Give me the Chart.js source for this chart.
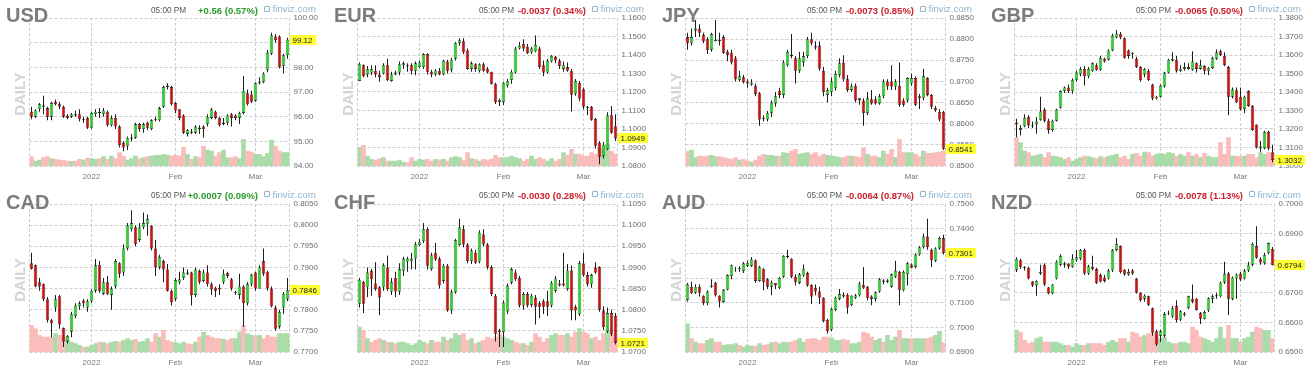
<!DOCTYPE html>
<html><head><meta charset="utf-8">
<script src="https://cdn.jsdelivr.net/npm/chart.js@4.4.1/dist/chart.umd.min.js"></script>
<style>
html,body{margin:0;padding:0;background:#fff;}
body{width:1314px;height:379px;position:relative;overflow:hidden;font-family:'Liberation Sans',Arial,sans-serif;}
.panel{position:absolute;width:328px;height:188px;}
.panel canvas{position:absolute;left:0;top:0;}
.ttl{position:absolute;left:6px;font-weight:bold;font-size:20px;line-height:1;color:#7c7c7c;white-space:nowrap;}
.daily{position:absolute;left:18.7px;top:93.5px;font-weight:bold;font-size:15px;line-height:1;color:#d4d4d4;transform:translate(-50%,-50%) rotate(-90deg);white-space:nowrap;}
.time{position:absolute;left:151px;font-size:8.2px;line-height:1;color:#555;white-space:nowrap;}
.chg{position:absolute;right:70px;font-weight:bold;font-size:9.5px;line-height:1;white-space:nowrap;}
.fv{position:absolute;left:272.5px;font-size:9.75px;line-height:1;color:#8cb4d2;white-space:nowrap;}
.fvi{position:absolute;left:264px;width:4px;height:4px;border:1px solid #8cb4d2;border-radius:1px;}
</style>
</head><body>
<script>
// ---- categories (trading days) ----
const dates = ['2021-12-13','2021-12-14','2021-12-15','2021-12-16','2021-12-17','2021-12-20','2021-12-21','2021-12-22','2021-12-23','2021-12-24','2021-12-27','2021-12-28','2021-12-29','2021-12-30','2021-12-31',
'2022-01-03','2022-01-04','2022-01-05','2022-01-06','2022-01-07','2022-01-10','2022-01-11','2022-01-12','2022-01-13','2022-01-14','2022-01-17','2022-01-18','2022-01-19','2022-01-20','2022-01-21','2022-01-24','2022-01-25','2022-01-26','2022-01-27','2022-01-28','2022-01-31',
'2022-02-01','2022-02-02','2022-02-03','2022-02-04','2022-02-07','2022-02-08','2022-02-09','2022-02-10','2022-02-11','2022-02-14','2022-02-15','2022-02-16','2022-02-17','2022-02-18','2022-02-21','2022-02-22','2022-02-23','2022-02-24','2022-02-25','2022-02-28',
'2022-03-01','2022-03-02','2022-03-03','2022-03-04','2022-03-07','2022-03-08','2022-03-09','2022-03-10','2022-03-11'];
const xTickDates = ['2022-01-03','2022-02-01','2022-03-01'];
const xTickLabels = ['2022','Feb','Mar'];

// ---- panel texts & y tick labels ----
const names = ['USD','EUR','JPY','GBP','CAD','CHF','AUD','NZD'];
const changes = ['+0.56 (0.57%)','-0.0037 (0.34%)','-0.0073 (0.85%)','-0.0065 (0.50%)','+0.0007 (0.09%)','-0.0030 (0.28%)','-0.0064 (0.87%)','-0.0078 (1.13%)'];
const timeLabel = '05:00 PM';
const yMin = [94, 1.08, 0.85, 1.30, 0.77, 1.07, 0.69, 0.65];
const yMax = [100, 1.16, 0.885, 1.38, 0.805, 1.105, 0.75, 0.70];
const yStep = [1, 0.01, 0.005, 0.01, 0.005, 0.005, 0.01, 0.01];
const yDecimals = [2, 4, 4, 4, 4, 4, 4, 4];

// ---- USD ----
const usdOpen = [96.2,96.0,96.3,96.45,96.35,96.0,96.6,96.5,96.4,96.05,96.0,96.1,96.1,95.85,95.95,95.55,96.1,96.2,96.1,96.2,95.65,95.95,95.6,94.95,94.8,95.1,95.15,95.7,95.5,95.75,95.5,95.85,95.85,96.4,97.2,97.2,96.55,96.3,96.05,95.3,95.4,95.35,95.55,95.6,95.7,95.95,96.2,95.95,95.7,95.75,96.1,96.05,95.95,96.15,96.95,96.9,96.65,97.35,97.4,97.9,98.55,99.25,99.25,98.05,98.5];
const usdClose = [96.0,96.25,96.5,96.4,96.0,96.55,96.5,96.4,96.0,95.95,96.1,96.05,95.9,95.9,95.55,96.15,96.2,96.15,96.25,95.65,95.95,95.6,94.85,94.75,95.15,95.15,95.7,95.5,95.7,95.55,95.85,95.9,96.35,97.2,97.25,96.5,96.25,95.95,95.35,95.45,95.35,95.6,95.5,95.5,96.0,96.3,95.95,95.65,95.75,96.05,95.95,95.95,96.15,97.05,96.5,96.6,97.35,97.4,97.75,98.6,99.3,99.1,98.0,98.5,99.12];
const usdHigh = [96.4,96.3,96.55,96.85,96.4,96.6,96.7,96.6,96.45,96.1,96.15,96.25,96.3,96.0,96.0,96.2,96.3,96.35,96.35,96.25,96.05,96.1,95.65,95.0,95.2,95.3,95.75,95.75,95.75,95.8,95.9,96.0,96.4,97.25,97.35,97.25,96.6,96.3,96.1,95.5,95.5,95.65,95.65,95.65,96.1,96.35,96.25,96.0,95.95,96.1,96.15,96.1,96.2,97.65,97.1,97.05,97.4,97.6,97.8,98.7,99.4,99.35,99.3,98.55,99.2];
const usdLow = [95.9,95.95,96.2,96.1,95.85,95.85,96.45,96.3,95.95,95.9,95.95,96.0,95.8,95.75,95.5,95.5,96.0,95.95,96.0,95.6,95.6,95.5,94.75,94.6,94.65,95.0,95.1,95.4,95.35,95.45,95.45,95.8,95.8,96.35,97.1,96.45,96.15,95.85,95.3,95.2,95.3,95.3,95.3,95.15,95.6,95.9,95.9,95.6,95.65,95.65,95.6,95.85,95.7,96.1,96.45,96.55,96.6,97.3,97.35,97.8,98.5,99.0,97.95,97.75,98.35];
const usdVolume = [28,15,18,25,28,22,20,18,16,15,14,15,20,18,24,22,20,22,28,20,30,22,40,30,18,22,30,22,25,28,30,32,32,35,33,30,32,30,56,35,20,28,25,60,48,45,30,40,48,25,25,28,22,80,45,42,35,35,28,38,78,60,45,40,40];

// ---- EUR ----
const eurOpen = [1.126,1.1345,1.1295,1.1305,1.1315,1.1295,1.13,1.1345,1.126,1.1295,1.1305,1.1345,1.1345,1.1345,1.1315,1.1335,1.1335,1.1405,1.131,1.1295,1.1315,1.1295,1.1365,1.132,1.138,1.1465,1.1475,1.1425,1.1325,1.135,1.1315,1.135,1.1325,1.131,1.1245,1.1155,1.1145,1.1235,1.1265,1.1305,1.1435,1.146,1.1445,1.1415,1.142,1.1435,1.1345,1.1305,1.1365,1.139,1.137,1.1325,1.1335,1.1315,1.119,1.125,1.1215,1.112,1.112,1.1055,1.0925,1.0855,1.089,1.1075,1.1015];
const eurClose = [1.135,1.1285,1.1325,1.1325,1.1295,1.128,1.1345,1.1265,1.1295,1.1305,1.135,1.1355,1.134,1.1315,1.1355,1.136,1.1405,1.131,1.1295,1.1315,1.1295,1.137,1.1315,1.1375,1.1465,1.148,1.1415,1.1325,1.1355,1.1325,1.135,1.1315,1.1305,1.1245,1.1145,1.1145,1.125,1.126,1.131,1.1435,1.145,1.1435,1.141,1.1435,1.1455,1.1335,1.1305,1.137,1.1395,1.137,1.134,1.1345,1.1315,1.1185,1.126,1.1165,1.112,1.1115,1.105,1.091,1.085,1.0915,1.1075,1.098,1.0949];
const eurHigh = [1.136,1.135,1.134,1.1345,1.1345,1.1315,1.1355,1.138,1.131,1.1315,1.1365,1.1365,1.1355,1.1355,1.1365,1.137,1.141,1.141,1.132,1.1325,1.133,1.1375,1.1375,1.1385,1.147,1.149,1.149,1.1435,1.1365,1.1355,1.1355,1.136,1.1335,1.131,1.125,1.1165,1.1255,1.127,1.132,1.1445,1.147,1.1485,1.146,1.1445,1.1505,1.1445,1.137,1.138,1.14,1.1395,1.138,1.1365,1.136,1.1325,1.127,1.126,1.1225,1.1125,1.1125,1.106,1.0935,1.093,1.109,1.1125,1.108];
const eurLow = [1.126,1.128,1.128,1.129,1.128,1.1255,1.1295,1.126,1.1255,1.129,1.129,1.1325,1.131,1.1295,1.129,1.133,1.1325,1.1295,1.128,1.1285,1.129,1.129,1.13,1.1305,1.137,1.145,1.1405,1.132,1.131,1.131,1.1305,1.131,1.13,1.124,1.1135,1.1125,1.113,1.1225,1.1245,1.13,1.143,1.142,1.1405,1.1405,1.1415,1.1325,1.1285,1.13,1.136,1.1355,1.1325,1.131,1.131,1.1095,1.118,1.115,1.1105,1.1075,1.1045,1.0895,1.081,1.084,1.0885,1.0975,1.0935];
const eurVolume = [55,62,30,20,18,22,25,15,15,15,18,12,10,25,15,20,18,20,15,20,18,20,15,25,28,25,18,40,22,20,15,20,18,20,32,25,25,25,30,25,22,15,20,30,20,25,20,15,22,15,20,40,32,50,35,35,30,30,40,35,55,50,65,45,35];

// ---- JPY ----
const jpyOpen = [0.8805,0.879,0.882,0.8825,0.881,0.880,0.8775,0.8795,0.8798,0.8805,0.877,0.8768,0.8755,0.8703,0.871,0.870,0.8692,0.869,0.8672,0.8613,0.861,0.8625,0.8648,0.8678,0.8668,0.8738,0.8763,0.8755,0.8725,0.8745,0.876,0.880,0.8783,0.8785,0.8725,0.8668,0.8675,0.8685,0.8715,0.8745,0.8705,0.868,0.869,0.866,0.8655,0.8625,0.8658,0.8658,0.8648,0.8665,0.870,0.870,0.8688,0.869,0.8655,0.8655,0.8695,0.8708,0.8665,0.866,0.8708,0.8668,0.8638,0.8628,0.8628];
const jpyClose = [0.879,0.8805,0.8825,0.8815,0.8795,0.8775,0.8812,0.8798,0.8795,0.8768,0.8762,0.8745,0.8705,0.8712,0.8698,0.8695,0.8697,0.867,0.861,0.8611,0.8625,0.865,0.8665,0.8668,0.8745,0.877,0.876,0.8725,0.8755,0.876,0.880,0.879,0.878,0.873,0.8675,0.868,0.870,0.8718,0.8743,0.8705,0.868,0.869,0.8655,0.8655,0.8625,0.866,0.8648,0.8648,0.8665,0.870,0.8688,0.8688,0.870,0.8645,0.8645,0.8708,0.8708,0.8645,0.866,0.8712,0.8668,0.864,0.8632,0.861,0.8541];
const jpyHigh = [0.8815,0.8825,0.8845,0.8835,0.8815,0.8805,0.8815,0.8845,0.8815,0.881,0.8775,0.8775,0.876,0.8725,0.8715,0.8705,0.8705,0.8695,0.8675,0.862,0.863,0.8655,0.8675,0.8685,0.875,0.8775,0.8812,0.876,0.877,0.877,0.8805,0.8815,0.8795,0.8795,0.8735,0.8685,0.871,0.8725,0.8755,0.8762,0.8715,0.8695,0.8695,0.866,0.866,0.8675,0.868,0.8665,0.867,0.8705,0.8705,0.8738,0.8705,0.8745,0.866,0.871,0.8718,0.8712,0.867,0.873,0.871,0.867,0.8642,0.8635,0.863];
const jpyLow = [0.8775,0.8785,0.8805,0.8805,0.879,0.8765,0.877,0.8795,0.8785,0.8765,0.8748,0.874,0.870,0.870,0.8695,0.8685,0.869,0.8665,0.8595,0.8605,0.8605,0.8615,0.864,0.866,0.866,0.8735,0.8755,0.8695,0.872,0.8735,0.8755,0.8785,0.8775,0.8725,0.8665,0.865,0.8665,0.8678,0.871,0.870,0.8675,0.8675,0.865,0.8645,0.8595,0.862,0.8645,0.8645,0.8645,0.866,0.868,0.868,0.868,0.864,0.864,0.865,0.869,0.8642,0.8635,0.8655,0.8665,0.8635,0.8628,0.8605,0.8538];
const jpyVolume = [45,48,25,30,28,30,32,28,28,25,22,20,25,18,20,15,12,18,30,35,32,32,30,30,40,38,45,50,35,38,40,35,40,30,35,32,30,28,25,25,30,30,28,25,55,35,30,30,25,45,35,50,25,80,40,40,40,35,28,45,38,38,40,42,45];

// ---- GBP ----
const gbpOpen = [1.3235,1.3195,1.3215,1.3265,1.3218,1.3225,1.325,1.3305,1.3245,1.3195,1.3245,1.3315,1.3405,1.3425,1.3405,1.3465,1.3495,1.3525,1.3485,1.3515,1.3545,1.352,1.358,1.3575,1.3625,1.3695,1.3715,1.369,1.3625,1.3605,1.358,1.3535,1.3495,1.3515,1.344,1.3365,1.3375,1.343,1.3505,1.357,1.3575,1.3515,1.3525,1.3535,1.352,1.3555,1.3525,1.354,1.3515,1.353,1.358,1.362,1.3595,1.3535,1.3375,1.341,1.3375,1.331,1.3405,1.3325,1.3225,1.3095,1.3095,1.3185,1.3075];
const gbpClose = [1.3225,1.3205,1.326,1.322,1.3222,1.324,1.3295,1.3245,1.3195,1.3245,1.3305,1.3405,1.3425,1.3405,1.3465,1.3505,1.3525,1.3485,1.3525,1.3555,1.352,1.3585,1.3565,1.3625,1.3705,1.3715,1.3695,1.3585,1.3595,1.361,1.3535,1.3465,1.3525,1.3465,1.3365,1.3375,1.3435,1.3505,1.3575,1.3578,1.3515,1.3525,1.3535,1.3525,1.3565,1.3525,1.3545,1.3515,1.353,1.3585,1.3615,1.360,1.3545,1.3375,1.3415,1.3345,1.3305,1.3375,1.3325,1.3195,1.310,1.3105,1.3185,1.3095,1.3032];
const gbpHigh = [1.3255,1.322,1.328,1.3275,1.324,1.3265,1.3375,1.3315,1.3255,1.325,1.331,1.341,1.343,1.344,1.3475,1.3515,1.3535,1.354,1.3535,1.356,1.3555,1.3595,1.3585,1.363,1.3715,1.3735,1.3725,1.3695,1.363,1.3615,1.359,1.354,1.353,1.3525,1.3445,1.338,1.344,1.351,1.358,1.3615,1.3595,1.3545,1.356,1.3555,1.362,1.356,1.3575,1.3545,1.3535,1.359,1.363,1.363,1.3615,1.354,1.3425,1.3425,1.3425,1.338,1.341,1.333,1.3225,1.3135,1.319,1.319,1.3115];
const gbpLow = [1.3155,1.3165,1.321,1.3205,1.3205,1.3175,1.3245,1.3235,1.3175,1.3185,1.324,1.331,1.3395,1.3395,1.339,1.3455,1.3485,1.3435,1.3475,1.351,1.3515,1.3515,1.356,1.357,1.362,1.369,1.3685,1.358,1.358,1.358,1.353,1.3455,1.348,1.346,1.3355,1.336,1.337,1.3425,1.35,1.3565,1.3505,1.351,1.3515,1.352,1.3515,1.3505,1.352,1.3495,1.349,1.3525,1.3575,1.3595,1.354,1.3275,1.3365,1.334,1.330,1.3285,1.332,1.319,1.3095,1.3075,1.309,1.3085,1.302];
const gbpVolume = [85,70,45,40,30,32,35,25,40,30,28,25,20,25,15,20,25,30,28,25,22,28,25,30,32,35,25,30,20,35,38,30,42,40,30,35,38,35,40,38,30,35,30,40,30,35,25,38,30,25,25,70,35,85,30,30,28,30,35,35,25,40,35,40,20];

// ---- CAD ----
const cadOpen = [0.791,0.7905,0.7865,0.786,0.7825,0.7775,0.7805,0.7832,0.7757,0.7725,0.7748,0.7785,0.7808,0.7822,0.7805,0.782,0.7845,0.7905,0.7838,0.7865,0.7835,0.7855,0.791,0.7888,0.7945,0.799,0.7995,0.7965,0.7995,0.8003,0.7998,0.7945,0.790,0.7915,0.7895,0.7845,0.7825,0.7865,0.7875,0.7888,0.7888,0.7835,0.7892,0.7868,0.7888,0.786,0.7852,0.7852,0.7865,0.7887,0.7872,0.784,0.7835,0.7855,0.7815,0.786,0.7888,0.785,0.7915,0.789,0.785,0.7805,0.776,0.7805,0.7825];
const cadClose = [0.7897,0.7855,0.7855,0.7825,0.7775,0.7768,0.7825,0.7765,0.7725,0.7738,0.779,0.781,0.7815,0.7815,0.782,0.7845,0.7905,0.7845,0.7865,0.7838,0.785,0.7915,0.7885,0.7945,0.800,0.8005,0.7955,0.7995,0.8005,0.8015,0.7945,0.790,0.7925,0.7895,0.7845,0.7818,0.787,0.7872,0.7888,0.7885,0.7835,0.7895,0.7865,0.7888,0.786,0.7848,0.7845,0.7848,0.7885,0.788,0.785,0.7842,0.7855,0.7815,0.786,0.7883,0.785,0.790,0.7885,0.785,0.7808,0.7755,0.7795,0.7838,0.7846];
const cadHigh = [0.7935,0.7907,0.7875,0.7862,0.783,0.7778,0.7835,0.7835,0.7758,0.774,0.7795,0.7815,0.782,0.7825,0.7825,0.7848,0.792,0.7915,0.7875,0.788,0.7855,0.792,0.7912,0.7955,0.8005,0.8035,0.800,0.8005,0.803,0.8025,0.800,0.7965,0.793,0.7918,0.7908,0.7848,0.7875,0.789,0.790,0.7895,0.789,0.790,0.7895,0.7895,0.7905,0.7865,0.7855,0.786,0.7895,0.789,0.7875,0.7845,0.7885,0.7858,0.7865,0.7885,0.789,0.7905,0.7945,0.7892,0.7855,0.781,0.780,0.7842,0.7875];
const cadLow = [0.7895,0.7853,0.7845,0.782,0.777,0.7735,0.7795,0.7755,0.7712,0.772,0.7735,0.778,0.780,0.7805,0.7795,0.7815,0.784,0.784,0.7835,0.7835,0.780,0.785,0.7875,0.788,0.794,0.7985,0.795,0.796,0.799,0.7975,0.794,0.788,0.7895,0.7865,0.7843,0.781,0.782,0.786,0.787,0.7882,0.781,0.783,0.786,0.7865,0.7855,0.7835,0.783,0.7835,0.786,0.7875,0.7845,0.7835,0.7825,0.776,0.781,0.7855,0.7845,0.785,0.788,0.7845,0.7805,0.775,0.7755,0.779,0.782];
const cadVolume = [80,70,50,45,45,45,55,50,45,35,30,25,20,15,15,20,25,30,28,25,30,32,30,35,40,35,38,30,32,40,30,55,45,65,35,30,28,25,30,25,22,30,45,60,50,45,40,40,38,35,40,40,60,80,55,50,48,50,40,50,45,45,55,55,55];

// ---- CHF ----
const chfOpen = [1.0814,1.0866,1.0853,1.0892,1.0862,1.0853,1.0853,1.0900,1.0843,1.0875,1.0843,1.0892,1.0914,1.0915,1.0921,1.0953,1.0962,1.0990,1.0896,1.0935,1.0921,1.0868,1.0904,1.0798,1.0841,1.0953,1.0990,1.0954,1.0915,1.0935,1.0914,1.0978,1.0954,1.0901,1.0833,1.0751,1.0747,1.0796,1.0864,1.0888,1.0875,1.0810,1.0837,1.0812,1.0828,1.0815,1.0820,1.0820,1.0810,1.0845,1.0862,1.0862,1.0849,1.0893,1.0807,1.0789,1.0909,1.0882,1.0860,1.0900,1.0901,1.0798,1.0749,1.0792,1.0786];
const chfClose = [1.0871,1.0814,1.0888,1.0872,1.0849,1.0829,1.0906,1.0849,1.0866,1.0843,1.0896,1.0921,1.0921,1.0921,1.0955,1.0961,1.0991,1.0904,1.0929,1.0919,1.0857,1.0904,1.0798,1.0843,1.0964,1.0995,1.0954,1.0915,1.0940,1.0911,1.0982,1.0954,1.0900,1.0837,1.0743,1.0747,1.0817,1.0857,1.0896,1.0872,1.0810,1.0837,1.0810,1.0833,1.0807,1.0807,1.0807,1.0807,1.0864,1.0874,1.0857,1.0857,1.0893,1.0798,1.0798,1.0911,1.0882,1.0860,1.0882,1.0888,1.0800,1.0759,1.0792,1.0743,1.0721];
const chfHigh = [1.0875,1.0868,1.0900,1.0897,1.0912,1.0856,1.0910,1.0928,1.0875,1.0890,1.0910,1.0925,1.0925,1.0935,1.0960,1.0968,1.1005,1.0995,1.0935,1.0958,1.0925,1.0908,1.0908,1.0848,1.0968,1.1015,1.1000,1.0958,1.0945,1.0942,1.0988,1.0990,1.0958,1.0905,1.0837,1.0755,1.0822,1.0862,1.0900,1.0895,1.0880,1.0842,1.0842,1.0838,1.0835,1.0820,1.0825,1.0845,1.0868,1.0880,1.0870,1.0935,1.0908,1.0905,1.0812,1.0915,1.0935,1.0890,1.0885,1.0912,1.0903,1.0808,1.0805,1.0800,1.0792];
const chfLow = [1.0805,1.0792,1.0830,1.0833,1.0845,1.0787,1.0845,1.0845,1.0835,1.0830,1.0835,1.0880,1.0890,1.0895,1.0895,1.0950,1.0958,1.0895,1.0892,1.0915,1.0850,1.0862,1.0795,1.0790,1.0838,1.0950,1.0948,1.0910,1.0908,1.0908,1.0910,1.0950,1.0895,1.0832,1.0725,1.0712,1.0712,1.0790,1.0860,1.0868,1.0805,1.0800,1.0805,1.0806,1.0765,1.0780,1.0790,1.0785,1.0805,1.0840,1.0855,1.0855,1.0845,1.0775,1.0775,1.0785,1.0878,1.0855,1.0852,1.0885,1.0795,1.0752,1.0745,1.0738,1.0718];
const chfVolume = [75,65,40,30,35,40,35,30,28,25,30,30,25,20,25,35,30,25,35,30,30,45,35,40,55,50,55,35,40,25,30,35,45,40,45,55,45,40,35,30,25,25,20,30,55,45,30,40,50,55,50,50,55,45,60,70,60,55,40,45,35,55,65,55,40];

// ---- AUD ----
const audOpen = [0.711,0.7165,0.714,0.7165,0.7128,0.7098,0.7165,0.718,0.7128,0.7103,0.7152,0.7208,0.7235,0.724,0.7228,0.725,0.7248,0.7272,0.7188,0.7238,0.7195,0.7165,0.718,0.716,0.7205,0.7285,0.7278,0.7205,0.718,0.721,0.722,0.7172,0.716,0.7145,0.712,0.703,0.699,0.707,0.7115,0.7132,0.7132,0.709,0.712,0.713,0.7172,0.7165,0.7125,0.7115,0.7145,0.719,0.7185,0.7165,0.7205,0.7225,0.715,0.7215,0.7255,0.7245,0.7295,0.7325,0.7368,0.7315,0.727,0.732,0.7362];
const audClose = [0.7175,0.7138,0.7165,0.714,0.7098,0.7145,0.717,0.713,0.7105,0.7152,0.7212,0.7252,0.7238,0.7236,0.726,0.726,0.7275,0.7188,0.7245,0.7185,0.7165,0.7182,0.717,0.720,0.729,0.729,0.7205,0.7185,0.7215,0.7238,0.717,0.7125,0.7145,0.712,0.7025,0.6985,0.7075,0.712,0.7135,0.7125,0.708,0.7128,0.713,0.7178,0.716,0.712,0.7115,0.7142,0.7195,0.7185,0.719,0.7215,0.723,0.715,0.7225,0.726,0.7242,0.7295,0.7325,0.7368,0.7325,0.7272,0.732,0.7362,0.7301];
const audHigh = [0.718,0.7185,0.7175,0.7175,0.713,0.715,0.7195,0.7185,0.713,0.7155,0.7215,0.7255,0.7245,0.7248,0.7265,0.727,0.7285,0.7275,0.725,0.724,0.720,0.719,0.718,0.7205,0.7292,0.7315,0.728,0.7215,0.722,0.7255,0.7225,0.7175,0.7175,0.7165,0.7122,0.7035,0.708,0.7125,0.7155,0.7142,0.7138,0.713,0.7135,0.7185,0.7245,0.7168,0.713,0.7145,0.720,0.7195,0.7195,0.7218,0.727,0.7228,0.723,0.7265,0.726,0.730,0.733,0.738,0.744,0.732,0.7325,0.7368,0.7375];
const audLow = [0.7105,0.7135,0.7135,0.7125,0.709,0.709,0.716,0.7125,0.708,0.710,0.715,0.7195,0.7225,0.7225,0.722,0.7245,0.7245,0.718,0.7185,0.715,0.7155,0.713,0.7155,0.7155,0.720,0.728,0.720,0.717,0.7175,0.7205,0.7165,0.7095,0.713,0.7095,0.702,0.6975,0.6985,0.7065,0.711,0.712,0.7055,0.7085,0.7115,0.7125,0.7155,0.711,0.709,0.7105,0.714,0.7175,0.718,0.716,0.720,0.709,0.7145,0.717,0.724,0.724,0.729,0.732,0.7315,0.7245,0.7265,0.7315,0.7295];
const audVolume = [85,40,30,25,25,35,40,30,30,20,22,22,25,20,15,20,18,18,25,20,22,28,30,25,30,28,30,35,40,30,38,40,40,35,45,45,42,35,35,38,35,25,25,30,60,55,45,35,40,30,50,35,45,65,40,40,40,40,40,40,40,45,50,62,28];

// ---- NZD ----
const nzdOpen = [0.6778,0.681,0.6788,0.6785,0.6738,0.6725,0.6765,0.6795,0.6718,0.6698,0.6748,0.6795,0.6795,0.6798,0.6788,0.681,0.6815,0.6845,0.6765,0.6788,0.678,0.676,0.6752,0.6748,0.6775,0.6845,0.6858,0.6778,0.6762,0.6775,0.6748,0.670,0.668,0.6688,0.6648,0.657,0.6555,0.6555,0.6628,0.662,0.6655,0.661,0.6625,0.6648,0.668,0.668,0.6632,0.6612,0.664,0.668,0.6688,0.6688,0.6735,0.6765,0.668,0.6748,0.6765,0.6748,0.6775,0.6795,0.6858,0.6815,0.680,0.6835,0.6848];
const nzdClose = [0.6815,0.6788,0.6785,0.6748,0.6725,0.674,0.677,0.6728,0.6698,0.6728,0.6805,0.6825,0.680,0.6788,0.6815,0.682,0.6845,0.6765,0.679,0.678,0.6732,0.6738,0.674,0.6775,0.6845,0.6865,0.677,0.6762,0.677,0.6765,0.670,0.6675,0.669,0.666,0.6565,0.6525,0.657,0.6628,0.663,0.6648,0.6608,0.6638,0.663,0.6688,0.667,0.6642,0.6612,0.6635,0.6682,0.6688,0.6692,0.6735,0.6765,0.668,0.6752,0.6762,0.6745,0.6775,0.6795,0.6865,0.6818,0.6802,0.6828,0.6868,0.6794];
const nzdHigh = [0.682,0.6815,0.679,0.6788,0.674,0.6742,0.6795,0.680,0.672,0.673,0.681,0.683,0.6805,0.680,0.683,0.6845,0.6848,0.685,0.6795,0.6825,0.6785,0.6765,0.676,0.678,0.6848,0.6885,0.686,0.678,0.678,0.678,0.675,0.6702,0.6695,0.669,0.665,0.6575,0.6575,0.6635,0.664,0.6655,0.6675,0.6642,0.6635,0.669,0.6728,0.6682,0.6635,0.664,0.6685,0.6695,0.670,0.6738,0.6805,0.677,0.6755,0.6765,0.677,0.678,0.6805,0.687,0.6925,0.682,0.6835,0.687,0.6855];
const nzdLow = [0.677,0.678,0.6775,0.6745,0.672,0.669,0.676,0.6722,0.6695,0.6695,0.6745,0.679,0.6785,0.678,0.6785,0.6805,0.681,0.676,0.676,0.6775,0.673,0.6735,0.6735,0.6745,0.677,0.684,0.6765,0.6758,0.6758,0.676,0.6698,0.667,0.667,0.6655,0.6555,0.652,0.6535,0.655,0.6625,0.6615,0.660,0.6605,0.662,0.6645,0.6665,0.664,0.6595,0.661,0.6635,0.6665,0.668,0.6685,0.673,0.6625,0.6675,0.668,0.674,0.6745,0.677,0.679,0.6815,0.6795,0.6795,0.683,0.6792];
const nzdVolume = [65,60,35,25,30,40,45,30,30,30,30,25,20,20,15,25,20,20,25,25,25,25,20,30,35,30,40,40,30,60,55,45,50,55,55,50,40,45,30,25,25,30,30,25,75,65,45,40,35,30,40,75,40,80,40,40,30,40,45,60,75,70,65,65,40];

const series = [
  [usdOpen,usdHigh,usdLow,usdClose,usdVolume],
  [eurOpen,eurHigh,eurLow,eurClose,eurVolume],
  [jpyOpen,jpyHigh,jpyLow,jpyClose,jpyVolume],
  [gbpOpen,gbpHigh,gbpLow,gbpClose,gbpVolume],
  [cadOpen,cadHigh,cadLow,cadClose,cadVolume],
  [chfOpen,chfHigh,chfLow,chfClose,chfVolume],
  [audOpen,audHigh,audLow,audClose,audVolume],
  [nzdOpen,nzdHigh,nzdLow,nzdClose,nzdVolume]
];
series.forEach((s, k) => s.forEach((a, j) => { if (a.length !== dates.length) throw new Error(names[k] + ' array ' + j + ' length ' + a.length); }));

// ---- styles ----
const FONT = "'Liberation Sans', Arial, sans-serif";
Chart.defaults.font.family = FONT;
const GRID = '#cdcdcd';
const UP = '#2fd22f', DOWN = '#cc1111', EDGE = '#1e1e1e';
const VOL_UP = '#a9dca9', VOL_DOWN = '#fbbcbc';
const panelLeft = [0, 328, 656, 985];
const rowTop = [0, 186];
const txt = { ttl: [4.5, 5.6], time: [6.5, 5.8], chg: [5.5, 4.7], fv: [4.2, 3.8], fvi: [5.7, 5.3] };
const N = dates.length;
const tickIdx = xTickDates.map(d => dates.indexOf(d));
const gridVals = [-0.5, ...tickIdx, N - 0.5];

const lastPricePlugin = {
  id: 'lastPrice',
  afterDraw(chart, args, opts) {
    const y = chart.scales.y.getPixelForValue(opts.value);
    const ctx = chart.ctx;
    ctx.save();
    ctx.font = '8px ' + FONT;
    const t = opts.value.toFixed(opts.dec);
    const w = ctx.measureText(t).width;
    const x = Math.round(chart.chartArea.right + 0.5);
    const top = Math.round(y - 5);
    ctx.fillStyle = '#ffff33';
    ctx.fillRect(x, top, Math.ceil(w + 5), 10);
    ctx.fillStyle = '#222';
    ctx.textBaseline = 'middle';
    ctx.fillText(t, x + 2.5, top + 5.5);
    ctx.restore();
  }
};

names.forEach((name, k) => {
  const r = Math.floor(k / 4), c = k % 4;
  const [o, h, l, cl, v] = series[k];
  const div = document.createElement('div');
  div.className = 'panel';
  div.style.left = panelLeft[c] + 'px';
  div.style.top = rowTop[r] + 'px';
  document.body.appendChild(div);
  const cv = document.createElement('canvas');
  cv.width = 328; cv.height = 188;
  div.appendChild(cv);

  const up = o.map((x, i) => cl[i] >= x);
  new Chart(cv, {
    type: 'bar',
    data: {
      labels: dates,
      datasets: [
        { label: 'volume', data: v, xAxisID: 'x', yAxisID: 'yv', backgroundColor: up.map(u => u ? VOL_UP : VOL_DOWN),
          barPercentage: 1, categoryPercentage: 1, grouped: false, order: 3 },
        { label: 'range', data: l.map((x, i) => [x, h[i]]), xAxisID: 'x', yAxisID: 'y',
          backgroundColor: EDGE, barThickness: 1, inflateAmount: 0, grouped: false, order: 2 },
        { label: 'body', data: o.map((x, i) => [x, cl[i]]), xAxisID: 'x', yAxisID: 'y', backgroundColor: up.map(u => u ? UP : DOWN),
          borderColor: EDGE, borderWidth: 0.6, borderSkipped: false, barThickness: 3.4, inflateAmount: 0, grouped: false, order: 1 }
      ]
    },
    options: {
      responsive: false, animation: false, events: [],
      layout: { padding: { left: 29.5, top: 18, right: 0, bottom: 0 } },
      plugins: { legend: { display: false }, tooltip: { enabled: false },
        lastPrice: { value: cl[N - 1], dec: yDecimals[k] } },
      scales: {
        x: { type: 'category', display: false, offset: true },
        xg: { type: 'linear', position: 'bottom', min: -0.5, max: N - 0.5, offset: false,
          afterBuildTicks: s => { s.ticks = gridVals.map(val => ({ value: val })); },
          ticks: { autoSkip: false, maxRotation: 0, font: { size: 8 }, color: '#777', padding: 6,
            callback: val => { const j = tickIdx.indexOf(val); return j >= 0 ? xTickLabels[j] : ''; } },
          grid: { color: GRID, drawTicks: false, offset: false },
          border: { display: false, dash: [3, 2] },
          afterFit: s => { s.height = 22; } },
        y: { position: 'right', min: yMin[k], max: yMax[k],
          ticks: { stepSize: yStep[k], font: { size: 8 }, color: '#6e6e6e', padding: 4,
            callback: val => Number(val).toFixed(yDecimals[k]) },
          grid: { color: GRID, drawTicks: false },
          border: { display: false, dash: [3, 2] },
          afterFit: s => { s.width = 38.5; } },
        yv: { display: false, min: 0, max: 444 }
      }
    },
    plugins: [lastPricePlugin]
  });

  const add = (cls, text, top, extra) => {
    const e = document.createElement('div');
    e.className = cls;
    if (text !== null) e.textContent = text;
    if (top !== null) e.style.top = top + 'px';
    if (extra) Object.assign(e.style, extra);
    div.appendChild(e);
    return e;
  };
  add('ttl', name, txt.ttl[r]);
  add('daily', 'DAILY', null);
  add('time', timeLabel, txt.time[r]);
  add('chg', changes[k], txt.chg[r], { color: changes[k].startsWith('+') ? '#2a9a2a' : '#cc1f2c' });
  add('fvi', null, txt.fvi[r]);
  add('fv', 'finviz.com', txt.fv[r]);
});
</script>
</body></html>
